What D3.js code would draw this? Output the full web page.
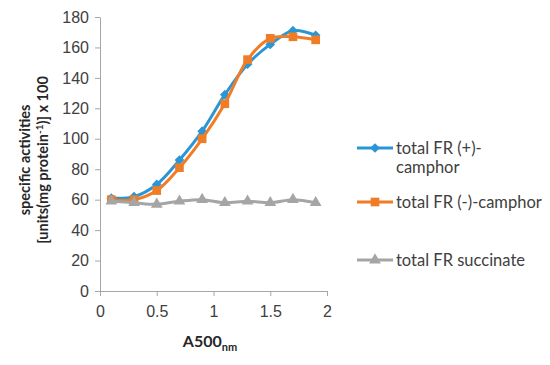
<!DOCTYPE html>
<html>
<head>
<meta charset="utf-8">
<script src="https://cdn.jsdelivr.net/npm/d3@7"></script>
<style>
  body { margin: 0; background: #fff; }
  svg { font-family: Lato, "Open Sans", sans-serif; }
  .axis path, .axis line { stroke: #a6a6a6; }
  .axis text { font-size: 16px; fill: #404040; }
</style>
</head>
<body>
<div id="chart"></div>
<script>
var absorbance = [0.1, 0.3, 0.5, 0.7, 0.9, 1.1, 1.3, 1.5, 1.7, 1.9];
var plusCamphor = [61, 62, 70, 86, 105, 129, 149, 162, 171, 168];
var minusCamphor = [60, 60, 66, 81, 100, 123, 152, 166, 167, 165];
var succinate = [59, 58, 57, 59, 60, 58, 59, 58, 60, 58];
var xTicks = [0, 0.5, 1, 1.5, 2];
var yTicks = [0, 20, 40, 60, 80, 100, 120, 140, 160, 180];

var series = [
  {name: ["total FR (+)-", "camphor"], values: plusCamphor, color: "#2b96d6", marker: "diamond", ly: 148},
  {name: ["total FR (-)-camphor"], values: minusCamphor, color: "#f07d26", marker: "square", ly: 202},
  {name: ["total FR succinate"], values: succinate, color: "#a5a5a5", marker: "triangle", ly: 260}
];

var width = 550, height = 365;
var svg = d3.select("#chart").append("svg")
  .attr("width", width)
  .attr("height", height);

var x = d3.scaleLinear().domain([0, 2]).range([100, 327]);
var y = d3.scaleLinear().domain([0, 180]).range([291, 17]);

svg.append("g")
  .attr("class", "axis")
  .attr("transform", "translate(0," + y(0) + ")")
  .call(d3.axisBottom(x).tickValues(xTicks).tickSize(5).tickPadding(10).tickSizeOuter(0)
    .tickFormat(function(d){ return d; }));

svg.append("g")
  .attr("class", "axis")
  .attr("transform", "translate(" + x(0) + ",0)")
  .call(d3.axisLeft(y).tickValues(yTicks).tickSize(5).tickPadding(6).tickSizeOuter(0));

function markerPath(type) {
  if (type === "diamond") return d3.symbol().type(d3.symbolDiamond2).size(60)();
  if (type === "square") return d3.symbol().type(d3.symbolSquare).size(75)();
  return d3.symbol().type(d3.symbolTriangle).size(60)();
}

var line = d3.line()
  .x(function(d, i){ return x(absorbance[i]); })
  .y(function(d){ return y(d); })
  .curve(d3.curveCatmullRom.alpha(0.5));

series.forEach(function(s){
  svg.append("path")
    .attr("d", line(s.values))
    .attr("fill", "none")
    .attr("stroke", s.color)
    .attr("stroke-width", 3);
  svg.selectAll(".m-" + s.marker)
    .data(s.values)
    .enter().append("path")
    .attr("class", "m-" + s.marker)
    .attr("d", markerPath(s.marker))
    .attr("transform", function(d, i){ return "translate(" + x(absorbance[i]) + "," + y(d) + ")"; })
    .attr("fill", s.color);

  // legend
  var g = svg.append("g").attr("transform", "translate(357," + s.ly + ")");
  g.append("line").attr("x1", 0).attr("x2", 36).attr("y1", 0).attr("y2", 0)
    .attr("stroke", s.color).attr("stroke-width", 3);
  g.append("path").attr("d", markerPath(s.marker)).attr("transform", "translate(18,0)").attr("fill", s.color);
  s.name.forEach(function(t, k){
    g.append("text").attr("x", 39).attr("y", k * 19).attr("dy", "0.35em")
      .style("font-size", "16.5px").attr("fill", "#404040").text(t);
  });
});

// axis titles
var yl = svg.append("text")
  .attr("transform", "translate(0,160) rotate(-90)")
  .attr("text-anchor", "middle")
  .style("font-weight", "bold").style("font-size", "14.5px").attr("fill", "#262626");
yl.append("tspan").attr("x", 0).attr("y", 30).text("specific activities");
var l2 = yl.append("tspan").attr("x", 0).attr("y", 48);
l2.append("tspan").text("[units(mg protein");
l2.append("tspan").attr("dy", -5).style("font-size", "10px").text("-1");
l2.append("tspan").attr("dy", 5).text(")] x 100");

var xl = svg.append("text")
  .attr("x", 210).attr("y", 347)
  .attr("text-anchor", "middle")
  .style("font-weight", "bold").style("font-size", "16px").attr("fill", "#262626");
xl.append("tspan").text("A500");
xl.append("tspan").attr("dy", 4).style("font-size", "11px").text("nm");
</script>
</body>
</html>
